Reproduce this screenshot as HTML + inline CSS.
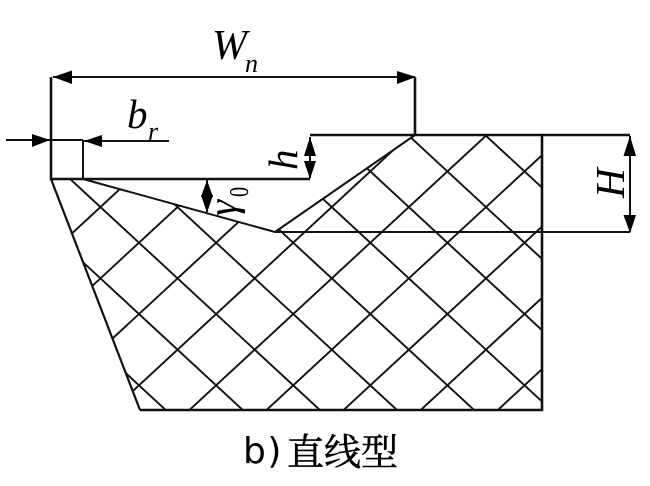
<!DOCTYPE html>
<html>
<head>
<meta charset="utf-8">
<style>
html,body{margin:0;padding:0;background:#fff;width:650px;height:486px;overflow:hidden}
svg{display:block}
</style>
</head>
<body>
<svg width="650" height="486" viewBox="0 0 650 486" xmlns="http://www.w3.org/2000/svg">
<defs>
<clipPath id="c"><polygon points="51,179 83,179 275,232 415,135 542,135 542,410 140,410"/></clipPath>
</defs>
<g clip-path="url(#c)" stroke="#111" stroke-width="1.9" fill="none">
<path d="M-246.6,100L110.2,430M-169.5,100L187.3,430M-92.4,100L264.4,430M-15.3,100L341.5,430M61.8,100L418.6,430M138.9,100L495.7,430M216,100L572.8,430M293.1,100L649.9,430M370.2,100L727,430M447.3,100L804.1,430"/>
<path d="M139.1,100L-217.7,430M216.2,100L-140.6,430M293.3,100L-63.5,430M370.4,100L13.6,430M447.5,100L90.7,430M524.6,100L167.8,430M601.7,100L244.9,430M678.8,100L322,430M755.9,100L399.1,430M833,100L476.2,430"/>
</g>
<g stroke="#111" stroke-width="2.6" fill="none" stroke-linejoin="miter">
<path d="M51,77V179H310"/>
<path d="M140,410H542V135H310"/>
<path d="M415,77V135"/>
</g>
<g stroke="#111" stroke-width="2" fill="none">
<path d="M51,179L140,410" stroke-width="2.2"/>
<path d="M83,140V179"/>
<path d="M51,179H83L275,232L415,135"/>
<path d="M275,232H630"/>
<path d="M542,135H630" stroke-width="2.4"/>
<path d="M53,77H415"/>
<path d="M6,140H83"/>
<path d="M83,141H169"/>
<path d="M310,137V178"/>
<path d="M630,136V232"/>
<path d="M207,180V212"/>
</g>
<g fill="#000" stroke="none">
<polygon points="53,77 72,70.500 72,84"/>
<polygon points="416,77 397,71 397,84"/>
<polygon points="50,140 32,134 32,147"/>
<polygon points="84,141 102,135 102,147"/>
<polygon points="310,137 304,156 316,156"/>
<polygon points="310,179 304,161 316,161"/>
<polygon points="630,136 623.500,156 636,156"/>
<polygon points="630,233 623.500,215 636,215"/>
<polygon points="207,180 201,197 213,197"/>
<polygon points="207,213 201,195 213,195"/>
</g>
<g font-family="'Liberation Serif',serif" font-style="italic" fill="#000">
<text x="212" y="59" font-size="42">W</text>
<text x="245" y="72" font-size="26">n</text>
<text x="127" y="128" font-size="41">b</text>
<text x="148" y="140" font-size="26">r</text>
<text transform="translate(297,170) rotate(-90)" font-size="41">h</text>
<text transform="translate(624,198) rotate(-90)" font-size="41">H</text>
<text transform="translate(236,216) rotate(-90)" font-size="41">γ</text>
<text transform="translate(248,197) rotate(-90) scale(.75,1)" font-size="27" font-style="normal">0</text>
</g>
<text x="243" y="463" font-family="'DejaVu Sans','Noto Serif CJK SC',sans-serif" font-size="36" letter-spacing="1.5" fill="#000">b)</text>
<text x="287" y="465" font-family="'Liberation Serif','Noto Serif CJK SC',serif" font-size="37" font-weight="400" stroke="#000" stroke-width="0.5" fill="#000">直线型</text>
</svg>
</body>
</html>
